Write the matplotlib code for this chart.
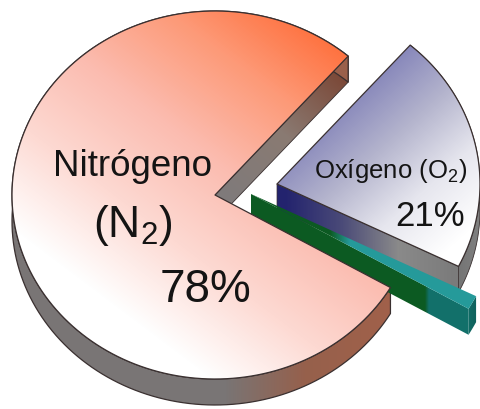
import matplotlib
matplotlib.use("Agg")
import matplotlib.pyplot as plt
import numpy as np
from matplotlib.colors import LinearSegmentedColormap
from matplotlib.patches import Polygon

# Composição do ar (%)
nomes = ["Nitrógeno", "Outros", "Oxígeno"]
partes = [78, 1, 21]

plt.rcParams['font.family'] = ['Liberation Sans', 'DejaVu Sans']
plt.rcParams['mathtext.fontset'] = 'custom'
plt.rcParams['mathtext.rm'] = 'Liberation Sans'
plt.rcParams['mathtext.default'] = 'regular'

# Geometria do disco em perspectiva (em pixels)
CX, CY = 215, 196
RX, RY = 203, 184
ALTURA = 26
INICIO = 49

fig = plt.figure(figsize=(4.8, 4.1), dpi=100, facecolor='white')
ax = fig.add_axes([0, 0, 1, 1])
ax.axis('off')

xx, yy = np.meshgrid(np.arange(480) + 0.5, np.arange(410) + 0.5)
camada = [1]


def prox():
    # ordem de pintura: cada peça fica por cima da anterior
    camada[0] += 1
    return camada[0]


def angulos():
    fim = INICIO + np.cumsum(partes) * 3.6
    ini = np.r_[INICIO, fim[:-1]]
    return ini, fim


def arco(a1, a2, cx, cy, esc=1.0):
    t = np.radians(np.linspace(a1, a2, 160))
    return np.c_[cx + esc * RX * np.cos(t), cy - esc * RY * np.sin(t)]


def gradiente(xy, p0, p1, cores):
    # preenche o polígono com um degradê linear de p0 até p1
    d = np.subtract(p1, p0, dtype=float)
    t = ((xx - p0[0]) * d[0] + (yy - p0[1]) * d[1]) / (d @ d)
    cmap = LinearSegmentedColormap.from_list('g', cores)
    im = ax.imshow(np.clip(t, 0, 1), cmap=cmap, vmin=0, vmax=1, zorder=prox(),
                   extent=(0, 480, 410, 0), aspect='auto', interpolation='bilinear')
    p = Polygon(xy, closed=True, fc='none', ec='none', transform=ax.transData)
    ax.add_patch(p)
    im.set_clip_path(p)


def contorno(xy, cor='#3a3030', lw=0.9):
    ax.add_patch(Polygon(xy, closed=True, fc='none', ec=cor, lw=lw,
                         joinstyle='round', zorder=prox()))


def parede(p, q):
    p, q = np.array(p), np.array(q)
    return np.array([p, q, q + [0, ALTURA], p + [0, ALTURA]])


def faixa(a1, a2, cx, cy, esc=1.0):
    topo = arco(a1, a2, cx, cy, esc)
    return np.vstack([topo, topo[::-1] + [0, ALTURA]])


ini, fim = angulos()

# --- Nitrogênio: paredes ---
apice_n = (CX, CY)
borda_n = arco(ini[0], fim[0], CX, CY)
w = parede(apice_n, borda_n[0])
gradiente(w, (225, 200), (345, 70), ['#7f7b7b', '#8a7a72', '#7a4432'])
contorno(w, lw=0.6)
w = faixa(ini[0], fim[0], CX, CY)
gradiente(w, (225, 0), (385, 0), ['#797575', '#96604c', '#a0604a'])
contorno(w)

# --- Oxigênio ---
ax_o, ay_o = CX + 62, CY - 11
borda_o = arco(ini[2], fim[2], ax_o, ay_o)
w = faixa(ini[2], fim[2], ax_o, ay_o)
gradiente(w, (440, 0), (480, 0), ['#6b6b6b', '#808080'])
contorno(w, lw=0.6)
w = parede((ax_o, ay_o), borda_o[0])
gradiente(w, (285, 0), (455, 0), ['#23236e', '#4a4a78', '#8a8a8a', '#7b7b7b'])
contorno(w, lw=0.5)
topo_o = np.vstack([[(ax_o, ay_o)], borda_o])
gradiente(topo_o, (335, 110), (455, 245),
          ['#8686ba', '#b4b4cd', '#e6e6ee', '#ffffff'])
contorno(topo_o)

# --- Fatia fina ---
ax_f, ay_f = CX + 36, CY - 1
borda_f = arco(ini[1], fim[1], ax_f, ay_f, 1.24)
w2 = faixa(ini[1], fim[1], ax_f, ay_f, 1.24)
gradiente(w2, (465, 0), (478, 0), ['#12706a', '#0f5f5a'])
w = parede((ax_f, ay_f), borda_f[0])
gradiente(w, (425, 0), (429, 0), ['#0c5a22', '#12706a'])
topo_f = np.vstack([[(ax_f, ay_f)], borda_f])
gradiente(topo_f, (330, 0), (350, 0), ['#0c5a22', '#259a9a'])

# --- Nitrogênio: topo por cima ---
topo_n = np.vstack([[apice_n], borda_n])
gradiente(topo_n, (345, 35), (130, 320),
          ['#ff6a35', '#fd9a78', '#fbbcb0', '#fdd9d2', '#ffffff'])
contorno(topo_n)

# --- Textos ---
cor = '#141414'
z = prox()
ax.text(133, 167, "Nitrógeno", fontsize=26.5, color=cor, ha='center', va='center', zorder=z)
ax.text(133, 226, r"(N$_2$)", fontsize=32, color=cor, ha='center', va='center', zorder=z)
ax.text(205, 290, "78%", fontsize=33, color=cor, ha='center', va='center', zorder=z)
ax.text(391, 171, r"Oxígeno (O$_2$)", fontsize=18.5, color=cor, ha='center', va='center', zorder=z)
ax.text(430, 217, "21%", fontsize=25, color=cor, ha='center', va='center', zorder=z)

ax.set_xlim(0, 480)
ax.set_ylim(410, 0)

fig.savefig('out.png', dpi=100, facecolor='white')
